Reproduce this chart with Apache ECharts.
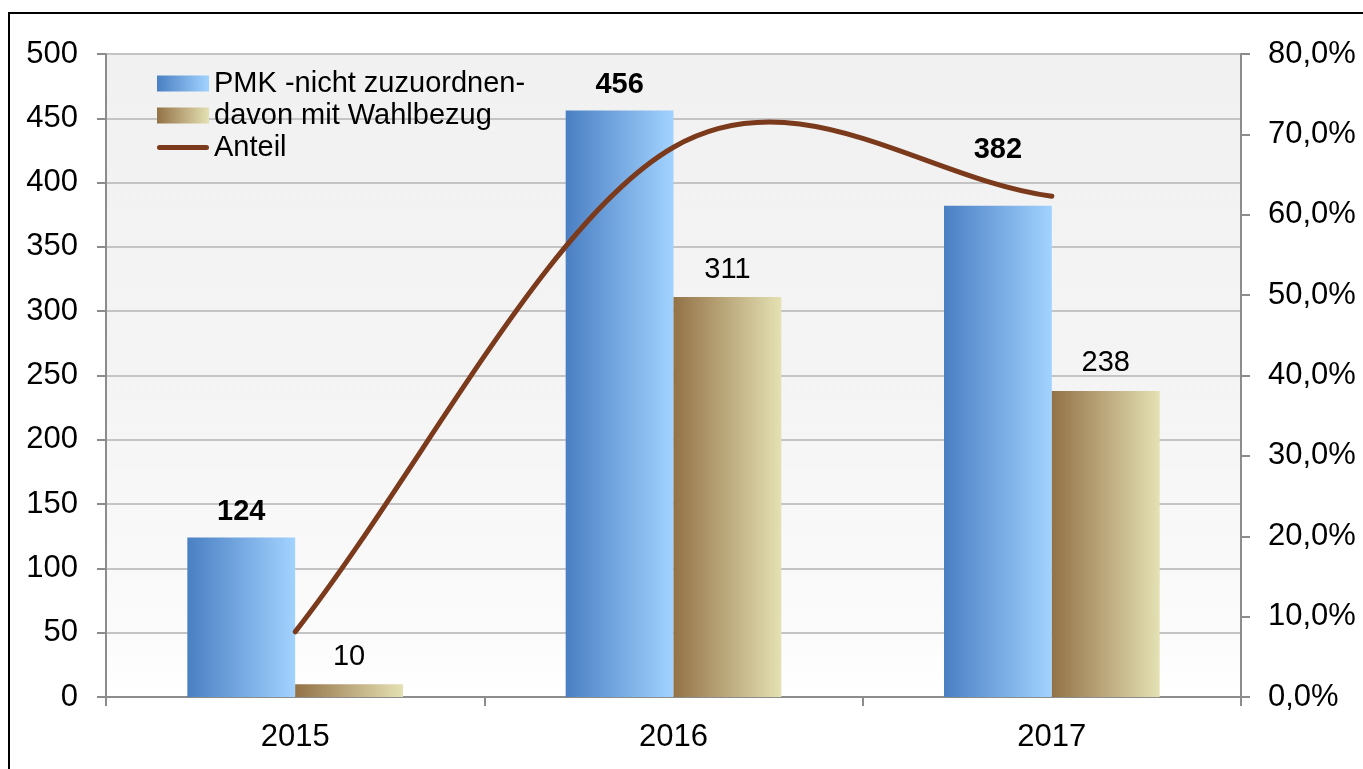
<!DOCTYPE html>
<html>
<head>
    <meta charset="utf-8">
    <title></title>
    <style type="text/css">
        html, body { height: 100%; }
        body { margin: 0; padding: 0; background: #fff; }
        #main { width: 1363px; height: 769px; }
    </style>
</head>
<body>
<div id="main"></div>
<script type="text/javascript" src="https://cdn.jsdelivr.net/npm/echarts@6/dist/echarts.min.js"></script>
<script type="text/javascript">
    // Daten
    var years = ['2015', '2016', '2017'];
    var pmkValues = [124, 456, 382];
    var wahlValues = [10, 311, 238];
    var anteilValues = [0.081, 0.684, 0.623];

    var FONT = '"Liberation Sans", Arial, sans-serif';
    var LINE_COLOR = '#7b3a1b';

    var myChart = echarts.init(document.getElementById('main'));

    function grad(c1, c2) {
        return new echarts.graphic.LinearGradient(0, 0, 1, 0, [
            {offset: 0, color: c1},
            {offset: 1, color: c2}
        ]);
    }

    // geglaettete Linie wie in Excel (Catmull-Rom), Punkte ueber api.coord
    function renderAnteil(params, api) {
        if (params.dataIndex !== 0) return null;
        var pts = [];
        for (var i = 0; i < anteilValues.length; i++) {
            pts.push(api.coord([i, anteilValues[i]]));
        }
        var n = pts.length;
        var d = 'M' + pts[0][0] + ',' + pts[0][1];
        for (var k = 0; k < n - 1; k++) {
            var p0 = pts[k], p1 = pts[k + 1];
            var c1, c2;
            if (k === 0) {
                c1 = [p0[0] + (p1[0] - p0[0]) / 3, p0[1] + (p1[1] - p0[1]) / 3];
            } else {
                var pp = pts[k - 1];
                c1 = [p0[0] + (p1[0] - pp[0]) / 6, p0[1] + (p1[1] - pp[1]) / 6];
            }
            if (k === n - 2) {
                c2 = [p1[0] - (p1[0] - p0[0]) / 3, p1[1] - (p1[1] - p0[1]) / 3];
            } else {
                var pn = pts[k + 2];
                c2 = [p1[0] - (pn[0] - p0[0]) / 6, p1[1] - (pn[1] - p0[1]) / 6];
            }
            d += ' C' + c1[0] + ',' + c1[1] + ' ' + c2[0] + ',' + c2[1] + ' ' + p1[0] + ',' + p1[1];
        }
        return {
            type: 'path',
            shape: { pathData: d },
            style: { fill: 'none', stroke: LINE_COLOR, lineWidth: 5, lineCap: 'round', lineJoin: 'round' }
        };
    }

    // 2017-Label sitzt oberhalb der Linie
    var pmkData = pmkValues.map(function (v, i) {
        return i === 2 ? { value: v, label: { distance: 41 } } : v;
    });

    var option = {
        backgroundColor: '#ffffff',
        animation: false,
        textStyle: { fontFamily: FONT },
        graphic: [{
            type: 'rect',
            shape: { x: 9, y: 13, width: 1400, height: 800 },
            style: { fill: 'none', stroke: '#000', lineWidth: 2 },
            z: 100
        }],
        grid: {
            left: 106, right: 122, top: 54, bottom: 72,
            show: true,
            borderWidth: 0,
            backgroundColor: new echarts.graphic.LinearGradient(0, 0, 0, 1, [
                {offset: 0, color: '#f1f1f1'},
                {offset: 0.5, color: '#f4f4f4'},
                {offset: 0.9, color: '#fbfbfb'},
                {offset: 1, color: '#ffffff'}
            ])
        },
        legend: {
            orient: 'vertical',
            left: 152,
            top: 64,
            itemWidth: 52,
            itemHeight: 16,
            itemGap: 3,
            textStyle: { fontSize: 29, color: '#000', fontFamily: FONT },
            data: [
                { name: 'PMK -nicht zuzuordnen-', icon: 'rect' },
                { name: 'davon mit Wahlbezug', icon: 'rect' },
                {
                    name: 'Anteil',
                    icon: 'path://M0,0L0.01,0.01M52,16L51.99,15.99M2.5,5.5L49.5,5.5A2.5,2.5 0 0 1 49.5,10.5L2.5,10.5A2.5,2.5 0 0 1 2.5,5.5Z',
                    itemStyle: { color: LINE_COLOR }
                }
            ]
        },
        xAxis: {
            type: 'category',
            data: years,
            axisLine: { lineStyle: { color: '#8c8c8c', width: 2 } },
            axisTick: { show: true, length: 9, lineStyle: { color: '#8c8c8c', width: 2 } },
            axisLabel: { fontSize: 31, color: '#000', margin: 25, fontFamily: FONT },
            splitLine: { show: false }
        },
        yAxis: [{
            type: 'value',
            min: 0, max: 500, interval: 50,
            axisLine: { show: true, lineStyle: { color: '#8c8c8c', width: 2 } },
            axisTick: { show: true, length: 9, lineStyle: { color: '#8c8c8c', width: 2 } },
            axisLabel: { fontSize: 31, color: '#000', margin: 28, fontFamily: FONT },
            splitLine: { lineStyle: { color: '#c4c4c4', width: 2 } }
        }, {
            type: 'value',
            position: 'right',
            min: 0, max: 0.8, interval: 0.1,
            axisLine: { show: true, lineStyle: { color: '#8c8c8c', width: 2 } },
            axisTick: { show: true, length: 9, lineStyle: { color: '#8c8c8c', width: 2 } },
            axisLabel: {
                fontSize: 31, color: '#000', margin: 27, fontFamily: FONT,
                formatter: function (v) { return (v * 100).toFixed(1).replace('.', ',') + '%'; }
            },
            splitLine: { show: false }
        }],
        series: [{
            name: 'PMK -nicht zuzuordnen-',
            type: 'bar',
            data: pmkData,
            barGap: '0%',
            barCategoryGap: '43%',
            itemStyle: { color: grad('#4a7fc3', '#a2d3ff') },
            label: {
                show: true, position: 'top', distance: 11,
                fontSize: 29, fontWeight: 'bold', color: '#000', fontFamily: FONT
            }
        }, {
            name: 'davon mit Wahlbezug',
            type: 'bar',
            data: wahlValues,
            itemStyle: { color: grad('#937247', '#e4e1b3') },
            label: {
                show: true, position: 'top', distance: 13,
                fontSize: 29, color: '#000', fontFamily: FONT
            }
        }, {
            name: 'Anteil',
            type: 'custom',
            yAxisIndex: 1,
            data: anteilValues.map(function (v, i) { return [i, v]; }),
            encode: { x: 0, y: 1 },
            renderItem: renderAnteil,
            itemStyle: { color: LINE_COLOR },
            z: 5
        }]
    };

    myChart.setOption(option);
</script>
</body>
</html>
